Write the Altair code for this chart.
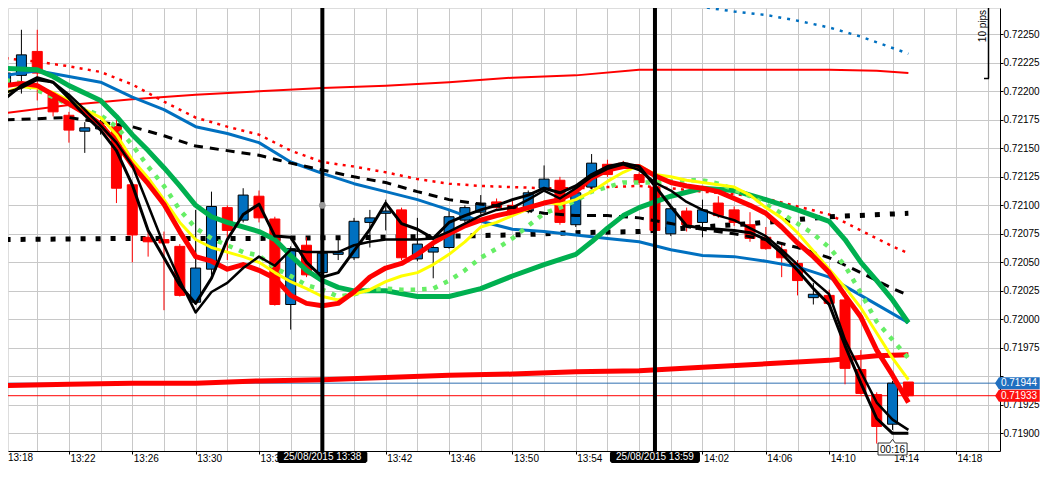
import altair as alt
import pandas as pd

FONT = "Liberation Sans"

# ---------------- data ----------------
bar_times = [f"{13 + (18 + i) // 60}:{(18 + i) % 60:02d}" for i in range(58)]  # 13:18 .. 14:15

opens = [0.72205, 0.72214, 0.72235, 0.72197, 0.72179, 0.72165, 0.72167, 0.72169, 0.72118, 0.72072,
         0.72070, 0.72064, 0.72015, 0.72044, 0.72098, 0.72087, 0.72108, 0.72088, 0.72013, 0.72065,
         0.72041, 0.72057, 0.72054, 0.72085, 0.72093, 0.72096, 0.72053, 0.72059, 0.72063, 0.72087,
         0.72094, 0.72103, 0.72100, 0.72095, 0.72115, 0.72122, 0.72083, 0.72116, 0.72136, 0.72137,
         0.72127, 0.72116, 0.72075, 0.72095, 0.72085, 0.72102, 0.72096, 0.72083, 0.72072, 0.72061,
         0.72049, 0.72019, 0.72021, 0.72017, 0.71956, 0.71934, 0.71908, 0.71945]
highs = [0.72223, 0.72254, 0.72254, 0.72198, 0.72182, 0.72173, 0.72175, 0.72175, 0.72120, 0.72077,
         0.72077, 0.72066, 0.72096, 0.72112, 0.72100, 0.72115, 0.72113, 0.72090, 0.72064, 0.72072,
         0.72061, 0.72073, 0.72089, 0.72096, 0.72105, 0.72098, 0.72089, 0.72067, 0.72096, 0.72100,
         0.72109, 0.72106, 0.72105, 0.72113, 0.72135, 0.72125, 0.72113, 0.72145, 0.72140, 0.72139,
         0.72129, 0.72118, 0.72099, 0.72098, 0.72105, 0.72108, 0.72099, 0.72094, 0.72081, 0.72067,
         0.72052, 0.72032, 0.72026, 0.72020, 0.71973, 0.71936, 0.71946, 0.71945]
lows = [0.72197, 0.72198, 0.72192, 0.72178, 0.72155, 0.72146, 0.72162, 0.72102, 0.72050, 0.72055,
        0.72008, 0.72020, 0.72013, 0.72039, 0.72052, 0.72085, 0.72085, 0.72012, 0.71991, 0.72037,
        0.72038, 0.72052, 0.72052, 0.72063, 0.72078, 0.72052, 0.72051, 0.72036, 0.72062, 0.72085,
        0.72092, 0.72097, 0.72091, 0.72093, 0.72113, 0.72083, 0.72081, 0.72114, 0.72125, 0.72133,
        0.72118, 0.72077, 0.72073, 0.72077, 0.72072, 0.72089, 0.72082, 0.72068, 0.72061, 0.72037,
        0.72021, 0.72013, 0.72013, 0.71943, 0.71934, 0.71891, 0.71903, 0.71932]
closes = [0.72216, 0.72232, 0.72216, 0.72182, 0.72166, 0.72168, 0.72169, 0.72115, 0.72074, 0.72068,
          0.72067, 0.72021, 0.72045, 0.72099, 0.72078, 0.72109, 0.72089, 0.72013, 0.72062, 0.72039,
          0.72058, 0.72059, 0.72086, 0.72089, 0.72095, 0.72054, 0.72066, 0.72063, 0.72090, 0.72098,
          0.72102, 0.72098, 0.72093, 0.72111, 0.72123, 0.72085, 0.72111, 0.72137, 0.72127, 0.72134,
          0.72120, 0.72078, 0.72097, 0.72083, 0.72096, 0.72091, 0.72085, 0.72071, 0.72062, 0.72054,
          0.72034, 0.72022, 0.72014, 0.71957, 0.71935, 0.71906, 0.71944, 0.71933]

# slow thin red MA (top)
slow_red_t = ["13:18", "13:22", "13:26", "13:30", "13:34", "13:38", "13:42", "13:46", "13:50", "13:54",
              "13:58", "14:02", "14:06", "14:10", "14:13", "14:15"]
slow_red_v = [0.72181, 0.72188, 0.72193, 0.72197, 0.72200, 0.72203, 0.72205, 0.72208, 0.72212, 0.72214,
              0.72219, 0.72219, 0.72219, 0.72219, 0.72218, 0.72216]
# thick red MA (bottom)
low_red_t = slow_red_t
low_red_v = [0.71942, 0.71943, 0.71944, 0.71944, 0.71946, 0.71947, 0.71949, 0.71951, 0.71952, 0.71954,
             0.71955, 0.71958, 0.71961, 0.71964, 0.71968, 0.71969]
# blue dotted (top right)
top_blue_t = ["13:50", "13:56", "13:58", "13:59", "14:00", "14:01", "14:02", "14:04", "14:06", "14:08",
              "14:10", "14:12", "14:14", "14:15"]
top_blue_v = [0.72305, 0.72287, 0.72281, 0.72279, 0.72277, 0.72276, 0.72274, 0.72270, 0.72267, 0.72262,
              0.72256, 0.72248, 0.72238, 0.72233]

two_min_t = bar_times[0::2] + ["14:15"]
red_dot_v = [0.72229, 0.72226, 0.72222, 0.72217, 0.72206, 0.72191, 0.72177, 0.72169, 0.72162, 0.72148,
             0.72138, 0.72134, 0.72129, 0.72123, 0.72119, 0.72117, 0.72116, 0.72115, 0.72115, 0.72116,
             0.72117, 0.72115, 0.72112, 0.72110, 0.72106, 0.72099, 0.72092, 0.72078, 0.72064, 0.72058]
blue_v = [0.72214, 0.72218, 0.72213, 0.72208, 0.72195, 0.72184, 0.72169, 0.72163, 0.72155, 0.72138,
          0.72128, 0.72119, 0.72112, 0.72105, 0.72096, 0.72086, 0.72079, 0.72077, 0.72074, 0.72071,
          0.72068, 0.72061, 0.72056, 0.72055, 0.72051, 0.72046, 0.72037, 0.72021, 0.72005, 0.71997]
black_dash_v = [0.72175, 0.72176, 0.72177, 0.72173, 0.72169, 0.72161, 0.72152, 0.72148, 0.72144, 0.72137,
                0.72131, 0.72125, 0.72120, 0.72112, 0.72105, 0.72101, 0.72098, 0.72093, 0.72091, 0.72091,
                0.72089, 0.72084, 0.72079, 0.72075, 0.72070, 0.72063, 0.72054, 0.72041, 0.72027, 0.72021]

black_sq_t = ["13:18", "13:26", "13:34", "13:42", "13:50", "13:54", "13:58", "14:02", "14:06", "14:10", "14:15"]
black_sq_v = [0.72070, 0.72071, 0.72071, 0.72072, 0.72074, 0.72076, 0.72077, 0.72081, 0.72085, 0.72090, 0.72093]

green_t = ["13:18", "13:20", "13:21", "13:22", "13:24", "13:25", "13:26", "13:27", "13:28", "13:29",
           "13:30", "13:31", "13:32", "13:34", "13:35", "13:36", "13:37", "13:38", "13:39", "13:40",
           "13:42", "13:44", "13:46", "13:48", "13:50", "13:52", "13:54", "13:55", "13:56", "13:57",
           "13:58", "14:00", "14:02", "14:04", "14:06", "14:08", "14:10", "14:11", "14:12", "14:13",
           "14:14", "14:15"]
green_v = [0.72220, 0.72219, 0.72213, 0.72205, 0.72192, 0.72178, 0.72162, 0.72148, 0.72133, 0.72117,
           0.72100, 0.72090, 0.72085, 0.72077, 0.72070, 0.72056, 0.72043, 0.72034, 0.72028, 0.72025,
           0.72025, 0.72020, 0.72020, 0.72027, 0.72038, 0.72048, 0.72057, 0.72068, 0.72080, 0.72091,
           0.72098, 0.72108, 0.72115, 0.72113, 0.72105, 0.72096, 0.72086, 0.72070, 0.72050, 0.72034,
           0.72017, 0.71997]

lightgreen_v = [0.72210, 0.72207, 0.72201, 0.72195, 0.72188, 0.72184, 0.72179, 0.72169, 0.72153, 0.72134,
                0.72117, 0.72096, 0.72080, 0.72071, 0.72065, 0.72059, 0.72056, 0.72045, 0.72038, 0.72030,
                0.72026, 0.72020, 0.72022, 0.72026, 0.72027, 0.72026, 0.72026, 0.72027, 0.72034, 0.72043,
                0.72054, 0.72062, 0.72071, 0.72082, 0.72093, 0.72098, 0.72104, 0.72112, 0.72116, 0.72120,
                0.72120, 0.72120, 0.72121, 0.72122, 0.72122, 0.72119, 0.72114, 0.72108, 0.72101, 0.72093,
                0.72084, 0.72075, 0.72063, 0.72047, 0.72023, 0.71998, 0.71982, 0.71966]
yellow_v = [0.72199, 0.72204, 0.72203, 0.72199, 0.72192, 0.72184, 0.72177, 0.72162, 0.72140, 0.72124,
            0.72105, 0.72085, 0.72070, 0.72063, 0.72059, 0.72055, 0.72050, 0.72041, 0.72033, 0.72027,
            0.72020, 0.72017, 0.72022, 0.72026, 0.72033, 0.72038, 0.72041, 0.72048, 0.72057, 0.72068,
            0.72081, 0.72085, 0.72091, 0.72097, 0.72103, 0.72101, 0.72105, 0.72112, 0.72121, 0.72129,
            0.72135, 0.72127, 0.72125, 0.72122, 0.72120, 0.72118, 0.72116, 0.72109, 0.72098, 0.72089,
            0.72076, 0.72060, 0.72044, 0.72028, 0.72010, 0.71988, 0.71966, 0.71947]
red_fast_v = [0.72205, 0.72207, 0.72205, 0.72197, 0.72189, 0.72181, 0.72171, 0.72155, 0.72135, 0.72119,
              0.72101, 0.72077, 0.72055, 0.72051, 0.72044, 0.72048, 0.72043, 0.72036, 0.72021, 0.72014,
              0.72012, 0.72014, 0.72024, 0.72037, 0.72045, 0.72049, 0.72057, 0.72067, 0.72075, 0.72082,
              0.72087, 0.72091, 0.72094, 0.72098, 0.72102, 0.72105, 0.72112, 0.72124, 0.72131, 0.72134,
              0.72134, 0.72126, 0.72120, 0.72117, 0.72115, 0.72112, 0.72106, 0.72100, 0.72093, 0.72081,
              0.72067, 0.72055, 0.72041, 0.72021, 0.72002, 0.71973, 0.71951, 0.71927]
black_a_v = [0.72194, 0.72205, 0.72212, 0.72208, 0.72194, 0.72179, 0.72166, 0.72148, 0.72118, 0.72078,
             0.72054, 0.72030, 0.72014, 0.72036, 0.72070, 0.72092, 0.72101, 0.72073, 0.72072, 0.72050,
             0.72037, 0.72041, 0.72060, 0.72079, 0.72102, 0.72084, 0.72079, 0.72071, 0.72085, 0.72091,
             0.72096, 0.72100, 0.72105, 0.72109, 0.72115, 0.72111, 0.72117, 0.72127, 0.72134, 0.72137,
             0.72134, 0.72117, 0.72099, 0.72082, 0.72080, 0.72079, 0.72078, 0.72076, 0.72070, 0.72058,
             0.72043, 0.72027, 0.72013, 0.71977, 0.71944, 0.71913, 0.71900, 0.71900]
black_b_v = [0.72199, 0.72203, 0.72210, 0.72208, 0.72197, 0.72184, 0.72170, 0.72155, 0.72135, 0.72100,
             0.72065, 0.72034, 0.72006, 0.72024, 0.72032, 0.72045, 0.72055, 0.72047, 0.72061, 0.72059,
             0.72059, 0.72059, 0.72065, 0.72068, 0.72070, 0.72070, 0.72070, 0.72071, 0.72077, 0.72084,
             0.72091, 0.72096, 0.72098, 0.72105, 0.72113, 0.72106, 0.72115, 0.72125, 0.72132, 0.72136,
             0.72131, 0.72120, 0.72113, 0.72103, 0.72096, 0.72091, 0.72087, 0.72080, 0.72073, 0.72061,
             0.72048, 0.72034, 0.72022, 0.71982, 0.71954, 0.71927, 0.71912, 0.71903]

price_lines = [0.71944, 0.71933]
price_labels = ["0.71944", "0.71933"]
marker_times = ["13:38", "13:59"]
marker_labels = ["25/08/2015 13:38", "25/08/2015 13:59"]
cursor_time, cursor_price = "13:38", 0.72100
timer_time, timer_label = "14:14", "00:16"
pips_label = "10 pips"
pips_base = 0.72212

# ---------------- helpers ----------------
def minutes(t):
    h, m = t.split(":")
    return (int(h) - 13) * 60 + int(m)


PLOT_W, PLOT_H = 992, 443
X0 = 18.46875
xs = alt.Scale(domain=[X0, X0 + 62], nice=False, zero=False)
ys = alt.Scale(domain=[0.718845, 0.722731], nice=False, zero=False)

grid_minutes = list(range(18, 82, 2))
price_ticks = [round(0.71900 + 0.00025 * k, 5) for k in range(15)]
is_major = "(datum.value - 18) % 4 == 0 && datum.value != 38 && datum.value != 58"

xa = alt.Axis(values=grid_minutes, title=None, grid=True, gridColor="#c8c8c8", gridWidth=1,
              domainColor="black", domainWidth=1, tickColor="black", tickSize=3,
              tickOpacity={"condition": {"test": "(datum.value - 18) % 4 == 0", "value": 1}, "value": 0},
              labelExpr=is_major + " ? (13 + floor(datum.value / 60)) + ':' + (datum.value % 60 < 10 ? '0' : '') + (datum.value % 60) : ''",
              labelAlign="left", labelBaseline="alphabetic", labelPadding=7, labelOffset=1,
              labelFont=FONT, labelFontSize=10, labelColor="black", labelFlush=False,
              labelOverlap=False, zindex=0)
ya = alt.Axis(orient="right", values=price_ticks, title=None, grid=True,
              labelExpr="abs(datum.value - 0.7195) < 0.000001 ? '' : format(datum.value, '.5f')",
              gridColor="#c8c8c8", gridWidth=1, domainColor="black", domainWidth=1,
              tickColor="black", tickSize=3, labelAlign="left", labelBaseline="middle",
              labelPadding=0, labelFont=FONT, labelFontSize=10, labelColor="black",
              labelOverlap=False, labelFlush=False, zindex=0)


def X(field="m"):
    return alt.X(field, type="quantitative", scale=xs, axis=xa)


def Y(field="v"):
    return alt.Y(field, type="quantitative", scale=ys, axis=ya)


def line_layer(times, values, color, width, dash=None):
    df = pd.DataFrame({"m": [minutes(t) for t in times], "v": values})
    kw = dict(color=color, strokeWidth=width, clip=True, strokeJoin="round")
    if dash:
        kw["strokeDash"] = dash
        kw["strokeCap"] = "butt"
    return alt.Chart(df).mark_line(**kw).encode(x=X(), y=Y())


# candles
cdf = pd.DataFrame({"m": [minutes(t) for t in bar_times], "o": opens, "h": highs,
                    "l": lows, "c": closes})
up = cdf["c"] >= cdf["o"]
cdf["fill"] = ["#0070C0" if u else "#FF0000" for u in up]
cdf["edge"] = ["#000000" if u else "#FF0000" for u in up]

wicks = alt.Chart(cdf).mark_rule(strokeWidth=1, clip=True).encode(
    x=X(), y=Y("l"), y2=alt.Y2("h"), color=alt.Color("edge:N", scale=None))
bodies = alt.Chart(cdf).mark_bar(size=10, strokeWidth=1, clip=True).encode(
    x=X(), y=Y("o"), y2=alt.Y2("c"),
    fill=alt.Fill("fill:N", scale=None), stroke=alt.Stroke("edge:N", scale=None))

pl_df = pd.DataFrame({"v": price_lines, "col": ["#2f6fb0", "#FF0000"],
                      "tag": ["#1f6fc0", "#FF1010"], "label": price_labels})
price_rules = alt.Chart(pl_df).mark_rule(strokeWidth=1).encode(
    y=Y(), color=alt.Color("col:N", scale=None))

TAG_PATH = "M -3.75 0 L -3.1 -1 L 3.7 -1 L 3.7 1 L -3.1 1 Z"
price_tags = alt.Chart(pl_df).mark_point(shape=TAG_PATH, size=144, filled=True, opacity=1,
                                         strokeWidth=0).encode(
    x=alt.value(1009.5), y=Y(), fill=alt.Fill("tag:N", scale=None))
price_tag_text = alt.Chart(pl_df).mark_text(font=FONT, fontSize=10, color="white",
                                            align="center", baseline="middle").encode(
    x=alt.value(1011), y=Y(), text="label:N")

mk_df = pd.DataFrame({"m": [minutes(t) for t in marker_times], "label": marker_labels})
vlines = alt.Chart(mk_df).mark_rule(strokeWidth=4, color="black").encode(x=X())
DATE_PATH = ("M -7.2 -1 L 7.2 -1 L 7.5 -0.7 L 7.5 0.7 L 7.2 1 L -7.2 1 "
             "L -7.5 0.7 L -7.5 -0.7 Z")
date_tags = alt.Chart(mk_df).mark_point(shape=DATE_PATH, size=144, filled=True, opacity=1,
                                        color="black", strokeWidth=0).encode(
    x=X(), y=alt.value(PLOT_H + 6))
date_text = alt.Chart(mk_df).mark_text(font=FONT, fontSize=10, color="white",
                                       align="center", baseline="middle").encode(
    x=X(), y=alt.value(PLOT_H + 6), text="label:N")

cur_df = pd.DataFrame({"m": [minutes(cursor_time)], "v": [cursor_price]})
cursor = alt.Chart(cur_df).mark_circle(size=45, color="#9a9a9a", opacity=1).encode(x=X(), y=Y())

tm_df = pd.DataFrame({"m": [minutes(timer_time)], "label": [timer_label]})
TIMER_PATH = "M -2.42 -1 L -0.45 -1 L 0 -1.6 L 0.45 -1 L 2.42 -1 L 2.42 1 L -2.42 1 Z"
timer_box = alt.Chart(tm_df).mark_point(shape=TIMER_PATH, size=144, filled=True, opacity=1,
                                        fill="white", stroke="#333333", strokeWidth=1).encode(
    x=X(), y=alt.value(PLOT_H - 2))
timer_text = alt.Chart(tm_df).mark_text(font=FONT, fontSize=10, color="black",
                                        align="center", baseline="middle").encode(
    x=X(), y=alt.value(PLOT_H - 1.5), text="label:N")

first_label = alt.Chart(pd.DataFrame({"label": [bar_times[0]]})).mark_text(
    font=FONT, fontSize=10, color="black", align="left", baseline="alphabetic").encode(
    x=alt.value(0), y=alt.value(PLOT_H + 10), text="label:N")

pips_df = pd.DataFrame({"v": [pips_base], "label": [pips_label]})
pips_rule = alt.Chart(pips_df).mark_rule(color="black", strokeWidth=1.5).encode(
    x=alt.value(980.5), y=alt.value(0), y2=alt.value(70.5))
pips_foot = alt.Chart(pips_df).mark_rule(color="black", strokeWidth=1.5).encode(
    x=alt.value(976), x2=alt.value(981), y=alt.value(70.5))
pips_text = alt.Chart(pips_df).mark_text(font=FONT, fontSize=10, color="black", angle=270,
                                         align="center", baseline="middle").encode(
    x=alt.value(975), y=alt.value(18), text="label:N")

layers = [
    price_rules,
    line_layer(slow_red_t, slow_red_v, "#FF0000", 2),
    line_layer(low_red_t, low_red_v, "#FF0000", 5),
    line_layer(top_blue_t, top_blue_v, "#0070C0", 2.5, [3, 6]),
    line_layer(two_min_t, red_dot_v, "#FF0000", 2.5, [3, 5.3]),
    line_layer(black_sq_t, black_sq_v, "#000000", 5, [5, 10]),
    wicks,
    bodies,
    line_layer(two_min_t, blue_v, "#0070C0", 3),
    line_layer(two_min_t, black_dash_v, "#000000", 3, [9, 7]),
    line_layer(green_t, green_v, "#00B050", 5),
    line_layer(bar_times, lightgreen_v, "#66EE66", 4.5, [4.5, 7]),
    line_layer(bar_times, yellow_v, "#FFFF00", 3),
    line_layer(bar_times, red_fast_v, "#FF0000", 5),
    line_layer(bar_times, black_a_v, "#000000", 3),
    line_layer(bar_times, black_b_v, "#000000", 2.5),
    vlines,
    cursor,
    price_tags,
    price_tag_text,
    date_tags,
    date_text,
    timer_box,
    timer_text,
    first_label,
    pips_rule,
    pips_foot,
    pips_text,
]

chart = alt.layer(*layers).properties(
    width=PLOT_W, height=PLOT_H,
    autosize=alt.AutoSizeParams(type="none"),
    padding={"left": 0, "top": 0, "right": 40, "bottom": 12},
    background="white",
).configure_view(strokeWidth=0).configure(font=FONT)

chart.save("out.html", embed_options={"renderer": "svg", "actions": False})
